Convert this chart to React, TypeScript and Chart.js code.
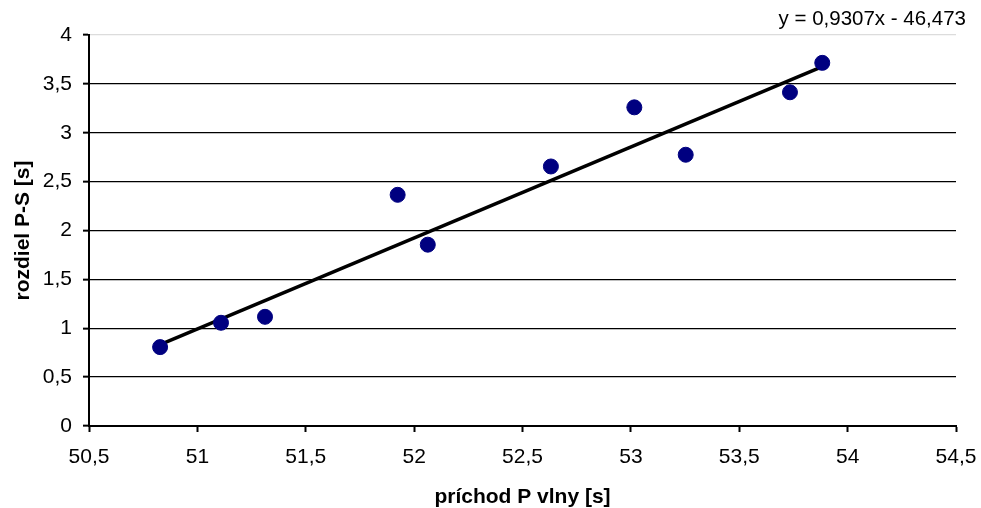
import React, { useEffect, useRef } from "react";
import { Chart, registerables } from "chart.js";

Chart.register(...registerables);

// arrival time of the P wave [s]
const arrivalP = [50.828, 51.109, 51.312, 51.924, 52.063, 52.631, 53.016, 53.253, 53.734, 53.883];
// S-P time difference [s]
const diffPS = [0.807, 1.056, 1.117, 2.365, 1.855, 2.655, 3.26, 2.775, 3.414, 3.715];

// linear trend coefficients
const trendSlope = 0.9307;
const trendIntercept = -46.473;

const xTicks = [50.5, 51, 51.5, 52, 52.5, 53, 53.5, 54, 54.5];
const yTicks = [0, 0.5, 1, 1.5, 2, 2.5, 3, 3.5, 4];

const FONT = '"Liberation Sans", Arial, sans-serif';
const comma = (v: number) => String(v).replace(".", ",");

const equationLabel = {
  id: "equationLabel",
  afterDraw(chart: Chart) {
    const ctx = chart.ctx;
    ctx.save();
    ctx.font = `20.5px ${FONT}`;
    ctx.fillStyle = "#000";
    ctx.textAlign = "right";
    ctx.textBaseline = "middle";
    const sign = trendIntercept < 0 ? "-" : "+";
    ctx.fillText(
      `y = ${comma(trendSlope)}x ${sign} ${comma(Math.abs(trendIntercept))}`,
      chart.chartArea.right + 10,
      19
    );
    ctx.restore();
  },
};

export default function App() {
  const canvasRef = useRef<HTMLCanvasElement | null>(null);

  useEffect(() => {
    if (!canvasRef.current) return;
    const xMin = Math.min(...arrivalP);
    const xMax = Math.max(...arrivalP);
    const trend = [xMin, xMax].map((x) => ({ x, y: trendSlope * x + trendIntercept }));

    const chart = new Chart(canvasRef.current, {
      type: "scatter",
      data: {
        datasets: [
          {
            label: "rozdiel P-S",
            data: arrivalP.map((x, i) => ({ x, y: diffPS[i] })),
            backgroundColor: "#000080",
            borderColor: "#000080",
            pointRadius: 7.5,
            pointHoverRadius: 7.5,
            order: 0,
          },
          {
            type: "line",
            label: "trend",
            data: trend,
            borderColor: "#000",
            borderWidth: 3.5,
            pointRadius: 0,
            showLine: true,
            fill: false,
            order: 1,
          } as any,
        ],
      },
      options: {
        animation: false,
        responsive: true,
        maintainAspectRatio: false,
        layout: { padding: { top: 35, right: 25, left: 0, bottom: 0 } },
        plugins: {
          legend: { display: false },
          tooltip: { enabled: false },
        },
        scales: {
          x: {
            type: "linear",
            min: 50.5,
            max: 54.5,
            afterBuildTicks: (s: any) => {
              s.ticks = xTicks.map((value) => ({ value }));
            },
            afterFit: (s: any) => {
              s.height = 82;
              s.paddingLeft = 0;
              s.paddingRight = 0;
            },
            ticks: {
              color: "#000",
              font: { family: FONT, size: 21 },
              padding: 13,
              maxRotation: 0,
              autoSkip: false,
              callback: (v: any) => comma(Number(v)),
            },
            grid: {
              drawOnChartArea: false,
              drawTicks: true,
              tickLength: 6,
              tickColor: "#000",
              tickWidth: 2,
            },
            border: { color: "#000", width: 2 },
            title: {
              display: true,
              text: "príchod P vlny [s]",
              color: "#000",
              font: { family: FONT, size: 21, weight: "bold", lineHeight: 1 },
              padding: { top: 0, bottom: 0 },
            },
          },
          y: {
            min: 0,
            max: 4,
            afterBuildTicks: (s: any) => {
              s.ticks = yTicks.map((value) => ({ value }));
            },
            afterFit: (s: any) => {
              s.width = 89;
              s.paddingTop = 0;
              s.paddingBottom = 0;
            },
            ticks: {
              color: "#000",
              font: { family: FONT, size: 21 },
              padding: 11,
              autoSkip: false,
              callback: (v: any) => comma(Number(v)),
            },
            grid: {
              color: (c: any) => (c.tick && c.tick.value === 4 ? "#dcdcdc" : "#000"),
              lineWidth: 1.3,
              tickLength: 6,
              tickColor: "#000",
              tickWidth: 2,
            },
            border: { color: "#000", width: 2 },
            title: {
              display: true,
              text: "rozdiel P-S [s]",
              color: "#000",
              font: { family: FONT, size: 21, weight: "bold", lineHeight: 1.2 },
              padding: { top: 11, bottom: 0 },
            },
          },
        },
      },
      plugins: [equationLabel],
    });
    return () => chart.destroy();
  }, []);

  return (
    <div style={{ position: "fixed", left: 0, top: 0, width: 981, height: 508, background: "#fff" }}>
      <canvas ref={canvasRef} />
    </div>
  );
}
